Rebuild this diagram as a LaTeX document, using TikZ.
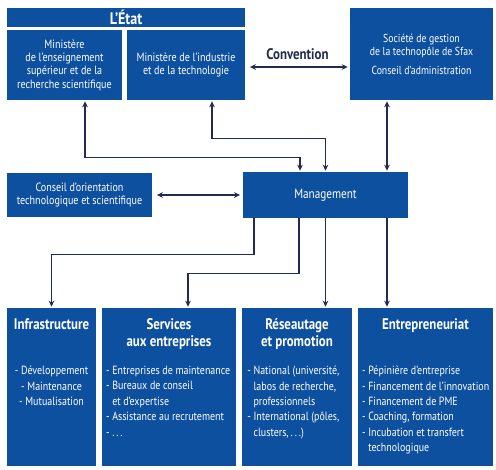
\documentclass[tikz,border=0pt]{standalone}
\usepackage{fontspec}
\setmainfont[FakeStretch=0.84]{PT Sans}
\usetikzlibrary{positioning, arrows.meta}
\definecolor{tpblue}{RGB}{14, 80, 160}
\definecolor{tpnavy}{RGB}{34, 44, 78}

\begin{document}
\begin{tikzpicture}[x=0.75pt, y=-0.75pt,
    bluebox/.style={fill=tpblue, text=white, inner sep=1pt, align=center,
        font=\fontsize{9}{10}\selectfont},
    head/.style={text=white, inner sep=0pt, align=center,
        font=\bfseries\fontsize{11.5}{12.8}\selectfont},
    items/.style={text=white, inner sep=0pt, font=\fontsize{8.9}{11.6}\selectfont},
    link/.style={draw=tpnavy, line width=1pt, shorten >=0.8pt,
        -{Stealth[length=4.5pt, width=4.2pt]}},
    dbllink/.style={link, shorten <=0.8pt,
        {Stealth[length=4.5pt, width=4.2pt]}-{Stealth[length=4.5pt, width=4.2pt]}}]
    \useasboundingbox (0,0) rectangle (496,469);

    % upper row
    \node[bluebox, minimum width=178.5pt, minimum height=14.25pt,
        font=\bfseries\fontsize{12.5}{13}\selectfont] at (126,17.5) (etat) {L’État};
    \node[bluebox, minimum width=86.25pt, minimum height=52.5pt] at (64.5,65) (minA)
        {Ministère\\de l’enseignement\\supérieur et de la\\recherche scientifique};
    \node[bluebox, minimum width=88.5pt, minimum height=52.5pt] at (186,65) (minB)
        {Ministère de l’industrie\\et de la technologie};
    \node[bluebox, minimum width=107.25pt, minimum height=69pt,
        font=\fontsize{8.7}{10}\selectfont] at (421.5,54) (soc)
        {Société de gestion\\de la technopôle de Sfax\\[4pt]Conseil d’administration};

    % middle row
    \node[bluebox, minimum width=108.75pt, minimum height=33pt] at (79.5,195) (cons)
        {Conseil d’orientation\\technologique et scientifique};
    \node[bluebox, minimum width=123.75pt, minimum height=34.5pt,
        font=\fontsize{10}{11}\selectfont] at (325.5,195) (mgmt) {Management};

    % lower row
    \node[bluebox, minimum width=66.75pt, minimum height=118.5pt] at (51.5,387) (infra) {};
    \node[bluebox, minimum width=100.5pt, minimum height=118.5pt] at (169,387) (serv) {};
    \node[bluebox, minimum width=82.5pt, minimum height=118.5pt] at (297,387) (res) {};
    \node[bluebox, minimum width=101.25pt, minimum height=118.5pt] at (425.5,387) (entr) {};

    \node[head, below=8pt of infra.north] (infraT) {Infrastructure};
    \node[head, below=8pt of serv.north] (servT) {Services\\aux entreprises};
    \node[head, below=8pt of res.north] (resT) {Réseautage\\et promotion};
    \node[head, below=8pt of entr.north] (entrT) {Entrepreneuriat};

    \node[items, align=center, below=43.5pt of infra.north] (infraL)
        {- Développement\\- Maintenance\\- Mutualisation};
    \node[items, align=left, anchor=north west, below right=43.5pt and 3pt of serv.north west] (servL)
        {- Entreprises de maintenance\\- Bureaux de conseil\\\phantom{- }et d’expertise\\- Assistance au recrutement\\- .\,.\,.};
    \node[items, align=left, anchor=north west, below right=43.5pt and 4pt of res.north west] (resL)
        {- National (université,\\\phantom{- }labos de recherche,\\\phantom{- }professionnels\\- International (pôles,\\\phantom{- }clusters,\,.\,.\,.)};
    \node[items, align=left, anchor=north west, below right=43.5pt and 3pt of entr.north west] (entrL)
        {- Pépinière d’entreprise\\- Financement de l’innovation\\- Financement de PME\\- Coaching, formation\\- Incubation et transfert\\\phantom{- }technologique};

    % connectors
    \draw[dbllink, shorten <=3.5pt, shorten >=1.5pt] ([yshift=-1.5pt]minB.east) -- ([yshift=-1.5pt]minB.east -| soc.west)
        node[midway, above=2pt, text=tpnavy, font=\bfseries\fontsize{11.5}{12}\selectfont] (conv) {Convention};
    \draw[dbllink] ([xshift=15.4pt]minA.south) -- ++(0,57) -| ([xshift=-19.1pt]mgmt.north);
    \draw[dbllink] ([xshift=19.5pt]minB.south) -- ++(0,38) -| (mgmt.north);
    \draw[dbllink] ([xshift=-25.9pt]soc.south) -- ([xshift=-25.9pt]soc.south |- mgmt.north);
    \draw[dbllink, shorten <=3.5pt, shorten >=2pt] (cons.east) -- (mgmt.west);

    \draw[link] ([xshift=-53.6pt]mgmt.south) -- ++(0,36) -| (infra.north);
    \draw[link] ([xshift=-19.9pt]mgmt.south) -- ++(0,55) -| ([xshift=14.25pt]serv.north);
    \draw[link] (mgmt.south) -- (mgmt.south |- res.north);
    \draw[link] ([xshift=46.1pt]mgmt.south) -- ([xshift=46.1pt]mgmt.south |- entr.north);
\end{tikzpicture}
\end{document}
